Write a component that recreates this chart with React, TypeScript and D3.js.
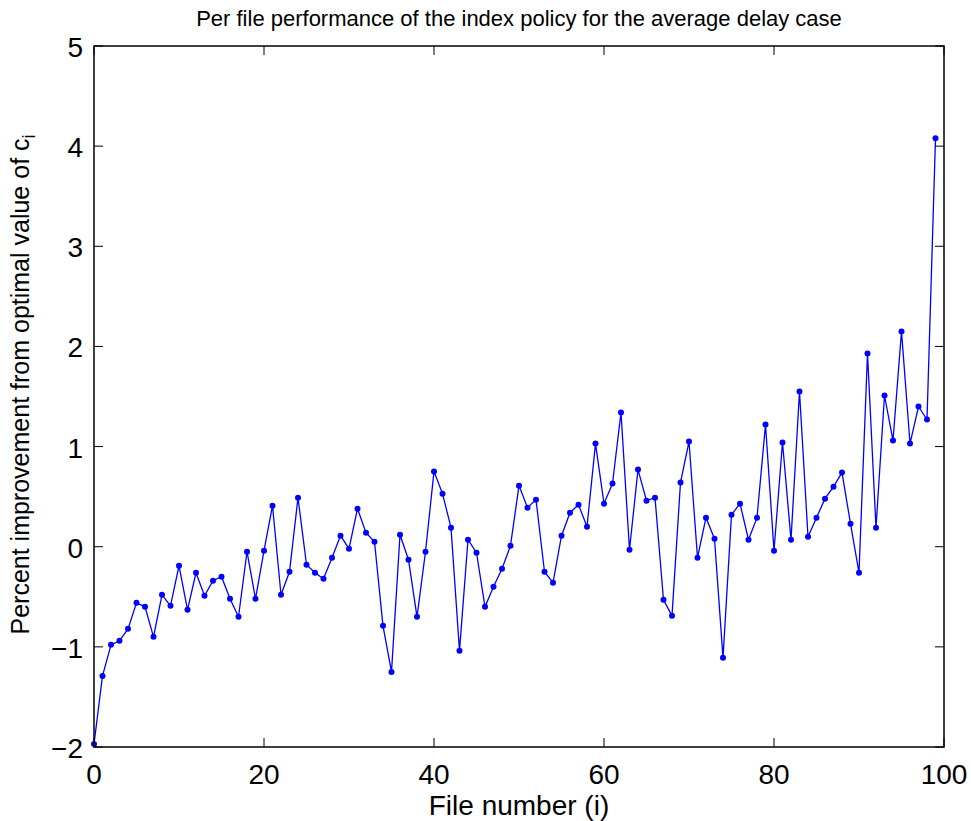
import { useMemo } from "react";
import * as d3 from "d3";

// per file improvement (%), files 0..99
const improvement = [
  -1.97, -1.29, -0.98, -0.94, -0.82, -0.56, -0.60, -0.90, -0.48, -0.59,
  -0.19, -0.63, -0.26, -0.49, -0.34, -0.30, -0.52, -0.70, -0.05, -0.52,
  -0.04, 0.41, -0.48, -0.25, 0.49, -0.18, -0.26, -0.32, -0.11, 0.11,
  -0.02, 0.38, 0.14, 0.05, -0.79, -1.25, 0.12, -0.13, -0.70, -0.05,
  0.75, 0.53, 0.19, -1.04, 0.07, -0.06, -0.60, -0.40, -0.22, 0.01,
  0.61, 0.39, 0.47, -0.25, -0.36, 0.11, 0.34, 0.42, 0.20, 1.03,
  0.43, 0.63, 1.34, -0.03, 0.77, 0.46, 0.49, -0.53, -0.69, 0.64,
  1.05, -0.11, 0.29, 0.08, -1.11, 0.32, 0.43, 0.07, 0.29, 1.22,
  -0.04, 1.04, 0.07, 1.55, 0.10, 0.29, 0.48, 0.60, 0.74, 0.23,
  -0.26, 1.93, 0.19, 1.51, 1.06, 2.15, 1.03, 1.40, 1.27, 4.08,
];

const xTicks = [0, 20, 40, 60, 80, 100];
const yTicks = [-2, -1, 0, 1, 2, 3, 4, 5];
const yTickLabels = ["\u22122", "\u22121", "0", "1", "2", "3", "4", "5"];

const WIDTH = 971;
const HEIGHT = 821;
const MARGIN = { top: 46, right: 27, bottom: 74, left: 94 };
const TICK = 9;
const FONT = "Liberation Sans, Arial, Helvetica, sans-serif";

const App = () => {
  const boundsWidth = WIDTH - MARGIN.left - MARGIN.right;
  const boundsHeight = HEIGHT - MARGIN.top - MARGIN.bottom;

  const xScale = useMemo(
    () => d3.scaleLinear().domain([0, 100]).range([0, boundsWidth]),
    [boundsWidth]
  );
  const yScale = useMemo(
    () => d3.scaleLinear().domain([-2, 5]).range([boundsHeight, 0]),
    [boundsHeight]
  );

  const linePath = d3
    .line<number>()
    .x((_, i) => xScale(i))
    .y((d) => yScale(d))(improvement);

  return (
    <svg
      width={WIDTH}
      height={HEIGHT}
      style={{ position: "absolute", left: 0, top: 0, background: "#fff" }}
      fontFamily={FONT}
    >
      <text x={519} y={26} textAnchor="middle" fontSize={22}>
        Per file performance of the index policy for the average delay case
      </text>

      <g transform={`translate(${MARGIN.left},${MARGIN.top})`}>
        {/* data */}
        <path d={linePath || ""} fill="none" stroke="#0000ff" strokeWidth={1.3} />
        {improvement.map((d, i) => (
          <circle key={i} cx={xScale(i)} cy={yScale(d)} r={3} fill="#0000ff" />
        ))}

        {/* box */}
        <rect
          x={0}
          y={0}
          width={boundsWidth}
          height={boundsHeight}
          fill="none"
          stroke="#000"
          strokeWidth={1.5}
        />

        {/* x ticks, bottom and top */}
        {xTicks.map((t) => (
          <g key={"x" + t}>
            <line x1={xScale(t)} x2={xScale(t)} y1={boundsHeight} y2={boundsHeight - TICK} stroke="#000" strokeWidth={1} />
            <line x1={xScale(t)} x2={xScale(t)} y1={0} y2={TICK} stroke="#000" strokeWidth={1} />
            <text x={xScale(t)} y={boundsHeight + 37} textAnchor="middle" fontSize={28}>
              {t}
            </text>
          </g>
        ))}

        {/* y ticks, left and right */}
        {yTicks.map((t, i) => (
          <g key={"y" + t}>
            <line x1={0} x2={TICK} y1={yScale(t)} y2={yScale(t)} stroke="#000" strokeWidth={1} />
            <line x1={boundsWidth} x2={boundsWidth - TICK} y1={yScale(t)} y2={yScale(t)} stroke="#000" strokeWidth={1} />
            <text x={-11} y={yScale(t) + 11} textAnchor="end" fontSize={28}>
              {yTickLabels[i]}
            </text>
          </g>
        ))}

        <text x={boundsWidth / 2} y={boundsHeight + 68} textAnchor="middle" fontSize={28}>
          File number (i)
        </text>

        <text
          transform={`translate(${29 - MARGIN.left},${boundsHeight / 2 - 12}) rotate(-90)`}
          textAnchor="middle"
          fontSize={25}
        >
          Percent improvement from optimal value of c
          <tspan fontSize={18} dy={6}>
            i
          </tspan>
        </text>
      </g>
    </svg>
  );
};

export default App;
